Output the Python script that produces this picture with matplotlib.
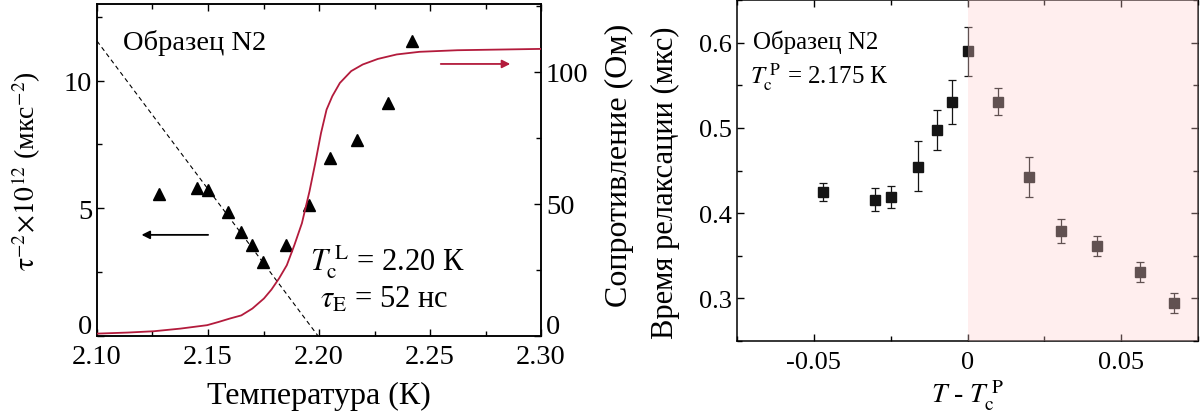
import matplotlib
matplotlib.use("Agg")
import matplotlib.pyplot as plt
import matplotlib.transforms as mtransforms
from matplotlib.ticker import MultipleLocator

plt.rcParams['font.family'] = ['Liberation Serif', 'DejaVu Serif']
plt.rcParams['mathtext.fontset'] = 'stix'
plt.rcParams['axes.unicode_minus'] = False

# ---------------- data: left panel ----------------
tri_T = [2.128, 2.145, 2.150, 2.159, 2.165, 2.170, 2.175, 2.185, 2.1954, 2.205, 2.217, 2.231, 2.242]
tri_val = [5.56, 5.81, 5.73, 4.87, 4.09, 3.57, 2.90, 3.58, 5.14, 6.98, 7.68, 9.13, 11.54]

res_T = [2.100, 2.1137, 2.1256, 2.1376, 2.1496, 2.1547, 2.1598, 2.165, 2.170, 2.1752,
         2.1786, 2.182, 2.1855, 2.1889, 2.1923, 2.1957, 2.1983, 2.2009, 2.2034, 2.206,
         2.2094, 2.2145, 2.2197, 2.2265, 2.235, 2.2453, 2.2624, 2.300]
res_R = [0.9, 1.3, 1.8, 2.8, 4.1, 5.3, 6.6, 7.8, 10.4, 14.2,
         17.6, 21.8, 26.8, 34.4, 42.7, 54.7, 65.4, 76.8, 85.7, 90.8,
         95.8, 100.3, 102.8, 104.9, 106.6, 107.6, 108.2, 108.7]

fit_T = [2.100, 2.1996]
fit_val = [11.55, 0.0]

left_xticks = [2.10, 2.15, 2.20, 2.25, 2.30]
left_xlabels = ['2.10', '2.15', '2.20', '2.25', '2.30']
left_yticks = [0, 5, 10]
res_yticks = [0, 50, 100]

# ---------------- data: right panel ----------------
dT = [-0.047, -0.030, -0.025, -0.016, -0.0099, -0.0049, 0.0, 0.010, 0.020, 0.0304, 0.0422, 0.0562, 0.0673]
tau = [0.4247, 0.4157, 0.4188, 0.4541, 0.4973, 0.5306, 0.5902, 0.5306, 0.4424, 0.3788, 0.3616, 0.3314, 0.2945]
tau_hi = [0.435, 0.4294, 0.4314, 0.4843, 0.5208, 0.5561, 0.618, 0.5471, 0.4655, 0.3929, 0.3729, 0.3427, 0.3063]
tau_lo = [0.414, 0.4024, 0.4063, 0.4255, 0.4745, 0.5051, 0.5612, 0.5149, 0.4188, 0.3647, 0.3502, 0.3196, 0.2824]

right_xticks = [-0.05, 0.0, 0.05]
right_xlabels = ['-0.05', '0', '0.05']
right_yticks = [0.3, 0.4, 0.5, 0.6]
right_ylabels = ['0.3', '0.4', '0.5', '0.6']

RED = '#b31b3c'

fig = plt.figure(figsize=(12.03, 4.14), dpi=100)

def raise_first_label(axis, dy_px):
    tick = axis.get_major_ticks()[0]
    off = mtransforms.ScaledTranslation(0, dy_px / 100.0, fig.dpi_scale_trans)
    for lab in (tick.label1, tick.label2):
        lab.set_transform(lab.get_transform() + off)

# ---------- left panel ----------
ax = fig.add_axes([97/1203, 1-337/414, 444/1203, 332/414])
ax.plot(fit_T, fit_val, color='black', lw=0.8, dashes=(4, 3), zorder=2)
ax.plot(tri_T, tri_val, linestyle='none', marker='^', color='black', markersize=8.5, zorder=4)
ax.annotate('', xy=(2.1188, 3.96), xytext=(2.1513, 3.96),
            arrowprops=dict(arrowstyle='-|>', color='black', lw=1.3, mutation_scale=12))
ax.set_xlim(2.10, 2.30)
ax.set_ylim(0, 13.0)
ax.set_xticks(left_xticks)
ax.set_xticklabels(left_xlabels)
ax.set_yticks(left_yticks)
ax.xaxis.set_minor_locator(MultipleLocator(0.025))
ax.yaxis.set_minor_locator(MultipleLocator(2.5))
ax.tick_params(which='both', direction='in', top=True, right=False, labelsize=20.5, width=1)
ax.tick_params(axis='x', pad=6)
ax.tick_params(which='major', length=5)
ax.tick_params(which='minor', length=3.5)
ax.set_xlabel('Температура (К)', fontsize=23, labelpad=8)
ax.set_ylabel(r'$\mathrm{\tau}^{-2}\!\times\!10^{12}$ (мкс$^{-2}$)', fontsize=20)
ax.yaxis.set_label_coords(-0.122, 0.50)
ax.text(0.059, 0.886, 'Образец N2', transform=ax.transAxes, fontsize=20.5, va='center', ha='left')
ax.text(2.196, 2.94, r'$T_{\rm c}^{\;\rm L}$ = 2.20 К', fontsize=22, va='center', ha='left')
ax.text(2.2003, 1.45, r'$\tau_{\rm E}$ = 52 нс', fontsize=22, va='center', ha='left')
raise_first_label(ax.yaxis, 12)

ax2 = ax.twinx()
ax2.plot(res_T, res_R, color=RED, lw=1.3, zorder=3)
ax2.annotate('', xy=(2.2874, 103), xytext=(2.2536, 103),
             arrowprops=dict(arrowstyle='-|>', color=RED, lw=1.3, mutation_scale=12))
ax2.set_ylim(0, 125.7)
ax2.set_yticks(res_yticks)
ax2.yaxis.set_minor_locator(MultipleLocator(25))
ax2.tick_params(which='both', direction='in', labelsize=20.5, width=1)
ax2.tick_params(which='major', length=5)
ax2.tick_params(which='minor', length=3.5)
ax2.set_ylabel('Сопротивление (Ом)', fontsize=23)
ax2.yaxis.set_label_coords(1.144, 0.517)
raise_first_label(ax2.yaxis, 12)
for a in (ax, ax2):
    for s in a.spines.values():
        s.set_linewidth(1.1)

# ---------- right panel ----------
bx = fig.add_axes([737/1203, 1-342/414, 461/1203, 341/414])
yerr_lo = [t - l for t, l in zip(tau, tau_lo)]
yerr_hi = [h - t for t, h in zip(tau, tau_hi)]
bx.errorbar(dT, tau, yerr=[yerr_lo, yerr_hi], fmt='s', color='#151515', ecolor='#151515',
            markersize=7, elinewidth=0.9, capsize=3, capthick=0.9, zorder=3)
bx.axvspan(0, 0.075, facecolor='#ffcccc', alpha=0.33, edgecolor='none', zorder=10)
bx.set_xlim(-0.075, 0.075)
bx.set_ylim(0.25, 0.65)
bx.set_xticks(right_xticks)
bx.set_xticklabels(right_xlabels)
bx.set_yticks(right_yticks)
bx.set_yticklabels(right_ylabels)
bx.xaxis.set_minor_locator(MultipleLocator(0.025))
bx.yaxis.set_minor_locator(MultipleLocator(0.05))
bx.tick_params(which='both', direction='in', top=True, right=True, labelsize=19, width=1)
bx.tick_params(axis='x', pad=7)
bx.tick_params(which='major', length=5)
bx.tick_params(which='minor', length=3.5)
bx.set_xlabel(r'$T$ - $T_{\rm c}^{\;\rm P}$', fontsize=20, labelpad=4)
bx.set_ylabel('Время релаксации (мкс)', fontsize=22)
bx.yaxis.set_label_coords(-0.124, 0.466)
bx.text(0.035, 0.88, 'Образец N2', transform=bx.transAxes, fontsize=18, va='center', ha='left')
bx.text(0.028, 0.775, r'$T_{\rm c}^{\;\rm P}$ = 2.175 К', transform=bx.transAxes, fontsize=18, va='center', ha='left')
for s in bx.spines.values():
    s.set_linewidth(1.1)

fig.savefig('out.png', dpi=100)
